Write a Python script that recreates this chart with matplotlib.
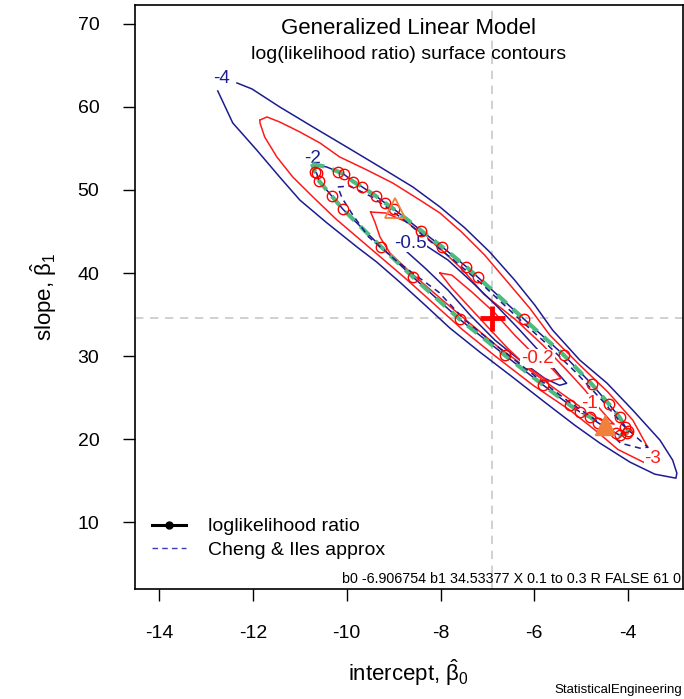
import matplotlib
matplotlib.use("Agg")
import matplotlib.pyplot as plt

plt.rcParams["font.family"] = ["Liberation Sans", "DejaVu Sans"]
plt.rcParams["axes.unicode_minus"] = False
plt.rcParams["mathtext.fontset"] = "custom"
plt.rcParams["mathtext.rm"] = "Liberation Sans"
plt.rcParams["mathtext.it"] = "Liberation Sans"

# maximum likelihood estimates
b0_hat = -6.906754
b1_hat = 34.53377

# contour level -4 (outer), open at its label
c4_x = [-12.34, -12.02, -11.43, -10.72, -10.0, -9.29, -8.59, -8.01, -7.48, -6.95, -6.42, -5.99, -5.61,
        -5.03, -4.45, -3.90, -3.32, -3.05, -2.96, -2.98, -3.43, -3.96, -4.60, -5.14, -5.78, -6.52, -7.16,
        -7.80, -8.33, -8.87, -9.36, -9.78, -10.42, -11.0, -11.43, -11.92, -12.43, -12.66, -12.75]
c4_y = [62.86, 62.14, 59.98, 57.57, 55.16, 52.76, 50.35, 47.94, 45.42, 42.53, 39.16, 36.15, 33.14,
        29.53, 26.76, 23.51, 19.90, 17.50, 15.93, 15.33, 15.81, 17.26, 19.54, 21.71, 24.48, 27.73, 30.49,
        33.38, 36.15, 38.92, 41.32, 43.13, 46.02, 48.78, 51.55, 54.80, 58.05, 60.82, 61.90]

# contour level -3, split where its label sits
c3_x = [-11.85, -11.70, -11.43, -11.0, -10.57, -10.15, -9.57, -9.02, -8.44, -8.01, -7.55, -7.06, -6.57,
        -6.10, -5.67, -5.03, -4.43, -3.90, -3.58]
c3_y = [58.41, 58.77, 58.17, 56.97, 55.64, 53.96, 52.40, 50.83, 48.78, 47.21, 44.93, 42.17, 38.92,
        35.79, 32.54, 28.93, 25.68, 22.31, 19.04]
c3b_x = [-3.58, -4.22, -4.65, -5.24, -6.03, -6.86, -7.52, -8.23, -8.78, -9.53, -10.23, -10.72, -11.15,
         -11.49, -11.75, -11.85, -11.85]
c3b_y = [16.99, 18.79, 20.87, 23.51, 26.52, 30.13, 33.14, 36.75, 39.52, 43.13, 46.50, 49.15, 51.55,
         53.96, 56.37, 58.05, 58.41]

# level -2 loop through the profile points
lr_x = [-10.74, -10.43, -10.18, -10.06, -9.86, -9.68, -9.38, -9.19, -8.99, -8.41, -7.97, -7.45, -7.20,
        -6.22, -5.37, -4.77, -4.41, -4.18, -4.06, -4.0, -4.03, -4.18, -4.25, -4.64, -4.82, -5.03, -5.24,
        -5.81, -6.63, -7.59, -8.58, -9.27, -10.08, -10.32, -10.59, -10.64, -10.68, -10.74]
lr_y = [53.12, 52.76, 52.19, 51.88, 50.99, 50.39, 49.27, 48.46, 47.67, 45.09, 43.17, 40.76, 39.48,
        34.46, 30.13, 26.61, 24.24, 22.64, 21.50, 21.02, 20.71, 20.51, 20.71, 21.99, 22.71, 23.31, 24.11,
        26.52, 30.13, 34.43, 39.48, 43.17, 47.67, 49.27, 51.07, 52.0, 52.19, 53.12]

# contour level -1
c1_x = [-9.49, -9.17, -8.72, -8.33, -7.93, -7.52, -7.08, -6.39, -5.82, -5.31, -4.92, -4.65, -4.39, -4.30,
        -4.50, -4.92, -5.46, -6.10, -6.74, -7.38, -8.01, -8.65, -9.08, -9.29, -9.40, -9.49]
c1_y = [47.34, 47.22, 46.14, 44.45, 42.53, 40.36, 37.47, 34.34, 31.34, 28.33, 25.92, 23.99, 22.31, 21.83,
        22.04, 23.51, 25.68, 28.33, 30.97, 33.98, 36.99, 40.12, 42.41, 44.33, 46.14, 47.34]

# contour level -0.5
c05_x = [-8.87, -8.33, -7.84, -7.33, -6.80, -6.31, -5.82, -5.46, -5.31, -5.46, -5.78, -6.31, -6.84,
         -7.37, -7.84, -8.33, -8.76, -8.87]
c05_y = [44.21, 43.37, 41.56, 38.92, 36.03, 33.14, 30.13, 27.70, 26.74, 26.50, 27.34, 29.53, 31.93,
         34.95, 37.95, 40.60, 42.77, 44.21]

# contour level -0.2
c02_x = [-8.01, -7.76, -7.33, -6.84, -6.42, -6.10, -5.63, -5.43, -5.71, -6.16, -6.57, -7.01, -7.44, -7.76, -8.01]
c02_y = [40.0, 39.76, 37.71, 35.19, 32.54, 30.73, 28.54, 27.34, 26.98, 28.78, 30.97, 33.62, 36.24, 38.19, 40.0]

# Cheng & Iles approximation
ci_x = [-10.19, -9.93, -9.46, -8.89, -8.33, -7.72, -7.12, -6.46, -5.78, -5.12, -4.52, -4.11, -3.75, -3.58,
        -3.75, -4.16, -4.69, -5.31, -6.01, -6.74, -7.48, -8.04, -8.91, -9.53, -9.87, -10.10, -10.19]
ci_y = [50.35, 50.47, 49.15, 46.86, 44.33, 41.56, 38.68, 35.19, 31.70, 28.09, 24.48, 21.71, 19.90, 19.06,
        18.94, 19.54, 22.31, 24.72, 27.73, 30.97, 34.34, 37.71, 41.32, 44.33, 46.98, 49.03, 50.35]

# profile points on the level -2 loop
pt_x = lr_x[2:37]
pt_y = lr_y[2:37]

# contour labels
lab_text = ["-4", "-2", "-0.5", "-0.2", "-1", "-3"]
lab_x = [-12.67, -10.72, -8.65, -5.93, -4.82, -3.47]
lab_y = [63.4, 53.8, 43.61, 29.77, 24.36, 17.70]

# start / end points
tri_open = (-8.97, 47.79)
tri_fill = (-4.50, 21.71)

BLUE = "#1c1c90"
RED = "#ff1a1a"
GREEN = "#4cbb7f"
ORANGE = "#f0803c"
lab_col = [BLUE, BLUE, BLUE, RED, RED, RED]

fig = plt.figure(figsize=(6.84, 6.99), dpi=100)
ax = fig.add_axes([0.197, 0.157, 0.8015, 0.836])

ax.axvline(b0_hat, color="#c8c8c8", ls=(0, (5, 4)), lw=1.2, zorder=0)
ax.axhline(b1_hat, color="#c8c8c8", ls=(0, (5, 4)), lw=1.2, zorder=0)

lw = 1.1
ax.plot(c4_x, c4_y, color=BLUE, lw=lw)
ax.plot(c3_x, c3_y, color=RED, lw=lw)
ax.plot(c3b_x, c3b_y, color=RED, lw=lw)
ax.plot(lr_x, lr_y, color=BLUE, lw=lw)
ax.plot(c1_x, c1_y, color=RED, lw=lw)
ax.plot(c05_x, c05_y, color=BLUE, lw=lw)
ax.plot(c02_x, c02_y, color=RED, lw=lw)

for t, x, y, c in zip(lab_text, lab_x, lab_y, lab_col):
    ax.text(x, y, t, color=c, fontsize=13.5, ha="center", va="center", zorder=3,
            bbox=dict(boxstyle="square,pad=0.05", fc="white", ec="none"))

ax.plot(lr_x, lr_y, color=GREEN, lw=3, ls=(0, (3, 2)), zorder=4)
ax.plot(ci_x, ci_y, color=BLUE, lw=lw, ls=(0, (4, 3)), zorder=4)
ax.plot(pt_x, pt_y, ls="none", marker="o", ms=7.5, mfc="none", mec="red", mew=1, zorder=5)

ax.plot(*tri_open, marker="^", ms=14, mfc="none", mec=ORANGE, mew=1.3, zorder=5)
ax.plot(*tri_fill, marker="^", ms=14, color=ORANGE, zorder=5)
ax.plot([b0_hat], [b1_hat], marker="+", color="red", ms=18, mew=3.5, zorder=6)

ax.set_xlim(-14.52, -2.83)
ax.set_ylim(1.97, 72.25)
ax.set_xticks([-14, -12, -10, -8, -6, -4])
ax.set_yticks([10, 20, 30, 40, 50, 60, 70])
ax.tick_params(labelsize=14, length=8.5, width=1, pad=17)
for s in ax.spines.values():
    s.set_linewidth(1.2)

ax.set_xlabel(r"intercept, $\hat{β}_0$", fontsize=16, labelpad=11)
ax.set_ylabel(r"slope, $\hat{β}_1$", fontsize=16, labelpad=13)

ax.text(0.5, 0.9596, "Generalized Linear Model", transform=ax.transAxes,
        ha="center", va="center", fontsize=16)
ax.text(0.5, 0.915, "log(likelihood ratio) surface contours", transform=ax.transAxes,
        ha="center", va="center", fontsize=14)

ax.plot([], [], color="black", lw=2.2, marker="o", ms=5, label="loglikelihood ratio")
ax.plot([], [], color="#3b3bb5", lw=1, ls=(0, (4, 3)), label="Cheng & Iles approx")
ax.legend(loc="lower left", bbox_to_anchor=(0.0, 0.022), frameon=False, fontsize=14,
          handlelength=1.75, handletextpad=1.1, labelspacing=0.3)

ax.text(0.997, 0.006, "b0 -6.906754 b1 34.53377 X 0.1 to 0.3 R FALSE 61 0", transform=ax.transAxes,
        ha="right", va="bottom", fontsize=10.3)
fig.text(0.997, 0.004, "StatisticalEngineering", ha="right", va="bottom", fontsize=9.5)

fig.savefig("out.png", dpi=100)
